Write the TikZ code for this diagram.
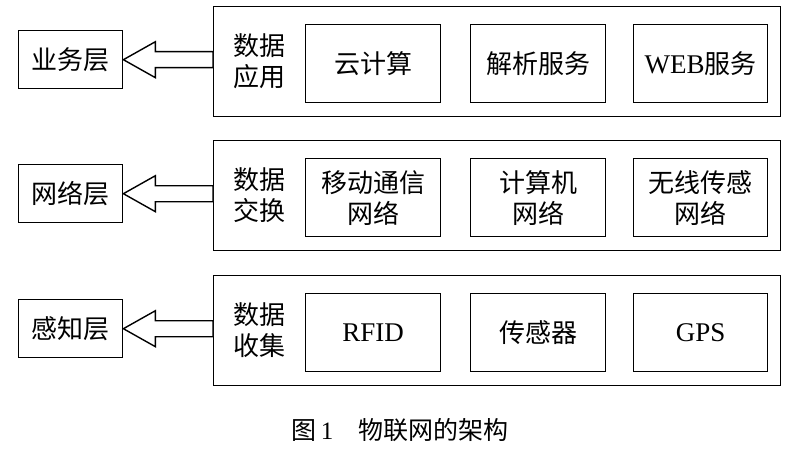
\documentclass[tikz,border=0pt]{standalone}
\usepackage{fontspec}
\setmainfont{Liberation Serif}
\newfontfamily\cjk{Noto Sans CJK SC}
\newcommand\latf{\fontspec{Liberation Serif}\fontsize{27}{30}\selectfont}
\usetikzlibrary{calc}
\begin{document}
\begin{tikzpicture}[x=1pt,y=-1pt,
  box/.style={draw,line width=1.4pt,inner sep=0pt,anchor=north west},
  txt/.style={font=\fontsize{26}{31}\selectfont\cjk,align=center},
  arr/.style={draw,line width=1.4pt,fill=white}]
\useasboundingbox (0,0) rectangle (800,452);
\foreach \i/\tp/\lf/\lab/\xa/\xb/\xc in {
  1/6/业务层/数据\\应用/云计算/解析服务/{{\latf WEB}服务},
  2/140/网络层/数据\\交换/移动通信\\网络/计算机\\网络/无线传感\\网络,
  3/275/感知层/数据\\收集/{{\latf RFID}}/传感器/{{\latf GPS}}}{
  \node[box,minimum width=567,minimum height=110] (o\i) at (213,\tp) {};
  \node[box,minimum width=104,minimum height=58,txt] (l\i) at (18,\tp+24) {\lf};
  \node[txt] (d\i) at (259,\tp+55) {\lab};
  \node[box,minimum width=135,minimum height=78,txt] (a\i) at (305,\tp+18) {\xa};
  \node[box,minimum width=135,minimum height=78,txt] (b\i) at (470,\tp+18) {\xb};
  \node[box,minimum width=134,minimum height=78,txt] (c\i) at (633,\tp+18) {\xc};
  \coordinate (t\i) at (l\i.east);
  \coordinate (s\i) at (o\i.west |- l\i.east);
  \draw[arr] (t\i) -- ++(32,-18) -- ++(0,10) -- ($(s\i)+(0,-8)$) -- ($(s\i)+(0,8)$) -- ($(t\i)+(32,8)$) -- ++(0,10) -- cycle;
}
\node[font=\fontsize{25}{27}\selectfont\cjk] (cap) at (400,430) {图\,{\fontspec{Liberation Serif}1}\quad 物联网的架构};
\end{tikzpicture}
\end{document}
